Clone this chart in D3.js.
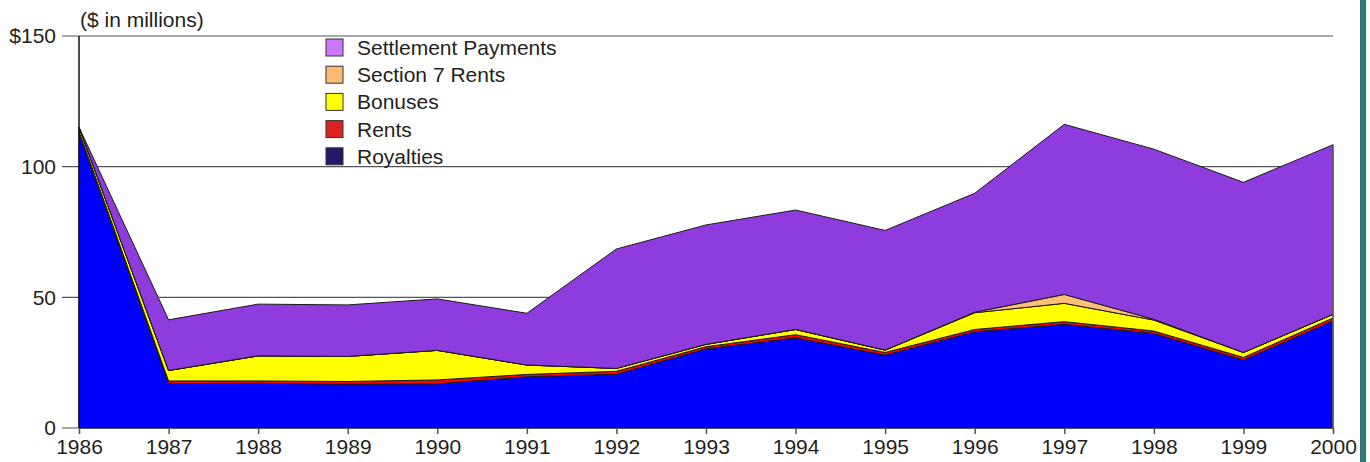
<!DOCTYPE html>
<html>
<head>
<meta charset="utf-8">
<script src="https://cdn.jsdelivr.net/npm/d3@7"></script>
<style>
  body { margin: 0; background: #fff; }
  svg text { font-family: "Liberation Sans", Arial, sans-serif; fill: #231f20; }
</style>
</head>
<body>
<div id="chart"></div>
<script>
// values in $ millions
const years = [1986, 1987, 1988, 1989, 1990, 1991, 1992, 1993, 1994, 1995, 1996, 1997, 1998, 1999, 2000];
const royalties  = [112.8, 17.0, 17.1, 16.8, 16.9, 19.6, 20.6, 30.3, 34.5, 27.9, 36.8, 39.7, 36.2, 26.0, 41.0];
const rents      = [0.8, 1.0, 0.9, 1.0, 1.5, 0.9, 1.1, 0.8, 1.2, 1.0, 0.9, 1.0, 0.9, 1.0, 1.1];
const bonuses    = [1.5, 4.0, 9.6, 9.6, 11.3, 3.6, 1.1, 0.9, 2.0, 0.9, 6.4, 7.0, 4.2, 1.9, 1.4];
const section7   = [0, 0, 0, 0, 0, 0, 0, 0, 0, 0, 0.2, 3.4, 0.3, 0, 0];
const settlement = [0, 19.4, 19.8, 19.7, 19.7, 19.8, 45.7, 45.7, 45.7, 45.8, 45.5, 65.1, 65.1, 65.1, 64.9];

const seriesNames = ["Royalties", "Rents", "Bonuses", "Section 7 Rents", "Settlement Payments"];
const areaColors   = ["#0000ff", "#ff0000", "#ffff00", "#ffbf78", "#8e3cdd"];
const legendColors = ["#25186c", "#db2420", "#ffff00", "#ffb974", "#cc77ff"];
const yTicks = [0, 50, 100, 150];

const rows = years.map((y, i) => ({
  year: y,
  "Royalties": royalties[i],
  "Rents": rents[i],
  "Bonuses": bonuses[i],
  "Section 7 Rents": section7[i],
  "Settlement Payments": settlement[i]
}));

const W = 1370, H = 462;
const margin = {top: 36, right: 37, bottom: 34, left: 79};
const width = W - margin.left - margin.right;
const height = H - margin.top - margin.bottom;
const fontSize = 21;

const svg = d3.select("#chart").append("svg")
  .attr("width", W)
  .attr("height", H);

const g = svg.append("g")
  .attr("transform", `translate(${margin.left},${margin.top})`);

const x = d3.scaleLinear().domain([1986, 2000]).range([0, width]);
const y = d3.scaleLinear().domain([0, 150]).range([height, 0]);

// gridlines (with the tick stub to the left of the axis)
g.append("g")
  .selectAll("line")
  .data(yTicks)
  .join("line")
    .attr("x1", -17)
    .attr("x2", width)
    .attr("y1", d => y(d))
    .attr("y2", d => y(d))
    .attr("stroke", "#555")
    .attr("stroke-width", 1.2);

const stack = d3.stack().keys(seriesNames);
const layers = stack(rows);

const area = d3.area()
  .x(d => x(d.data.year))
  .y0(d => y(d[0]))
  .y1(d => y(d[1]));

g.append("g")
  .selectAll("path")
  .data(layers)
  .join("path")
    .attr("d", area)
    .attr("fill", (d, i) => areaColors[i])
    .attr("stroke", "#1a1a1a")
    .attr("stroke-width", 1)
    .attr("stroke-linejoin", "round");

// right edge of the stack
g.append("line")
  .attr("x1", width).attr("x2", width)
  .attr("y1", y(0)).attr("y2", y(d3.sum(seriesNames, k => rows[rows.length - 1][k])))
  .attr("stroke", "#666")
  .attr("stroke-width", 1.5);

// y axis
const yAxis = d3.axisLeft(y)
  .tickValues(yTicks)
  .tickSize(0)
  .tickPadding(23)
  .tickFormat(d => d === 150 ? "$150" : d);

g.append("g")
  .attr("class", "y-axis")
  .call(yAxis)
  .call(a => a.select(".domain").remove())
  .call(a => a.selectAll("text").attr("font-size", fontSize).attr("fill", "#231f20"));

g.append("line")
  .attr("x1", 0).attr("x2", 0)
  .attr("y1", 0).attr("y2", height)
  .attr("stroke", "#111")
  .attr("stroke-width", 1.5);

// x axis
const xAxis = d3.axisBottom(x)
  .tickValues(years)
  .tickSize(6)
  .tickPadding(5)
  .tickFormat(d3.format("d"));

g.append("g")
  .attr("class", "x-axis")
  .attr("transform", `translate(0,${height})`)
  .call(xAxis)
  .call(a => a.select(".domain").attr("stroke", "#555").attr("stroke-width", 1.2))
  .call(a => a.selectAll(".tick line").attr("stroke", "#555").attr("stroke-width", 1.5))
  .call(a => a.selectAll("text").attr("font-size", fontSize).attr("fill", "#231f20"));

// unit label
g.append("text")
  .attr("x", 1)
  .attr("y", -9)
  .attr("font-size", 21)
  .text("($ in millions)");

// legend, top entry first
const legendItems = seriesNames.map((n, i) => ({name: n, color: legendColors[i]})).reverse();
const legend = g.append("g")
  .attr("transform", "translate(247,3)");

const item = legend.selectAll("g")
  .data(legendItems)
  .join("g")
    .attr("transform", (d, i) => `translate(0,${i * 27.2})`);

item.append("rect")
  .attr("width", 17)
  .attr("height", 17)
  .attr("fill", d => d.color)
  .attr("stroke", "#333")
  .attr("stroke-width", 1);

item.append("text")
  .attr("x", 31)
  .attr("y", 16)
  .attr("font-size", 21)
  .text(d => d.name);

// teal rule on the right edge
svg.append("rect")
  .attr("x", 1360)
  .attr("y", 0)
  .attr("width", 6)
  .attr("height", H)
  .attr("fill", "#2f7a78");
</script>
</body>
</html>
